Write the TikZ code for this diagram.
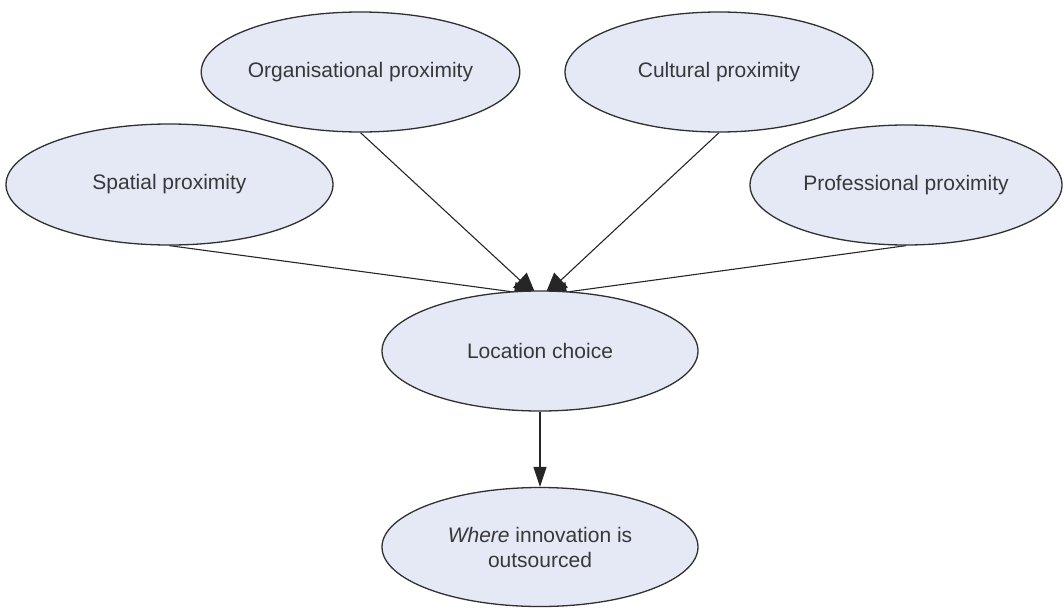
\documentclass[tikz,border=0pt]{standalone}
\usepackage{fontspec}
\setmainfont{Liberation Sans}
\usetikzlibrary{shapes.geometric,arrows.meta,backgrounds}
\definecolor{bubblefill}{HTML}{E4E9F5}
\definecolor{rim}{HTML}{303030}
\definecolor{ink}{HTML}{383838}
\begin{document}
\begin{tikzpicture}[x=1pt,y=-1pt,
  bubble/.style={ellipse, draw=rim, line width=1.3pt, fill=bubblefill, text=ink,
    inner sep=0pt, font=\fontsize{21}{25}\selectfont, align=center},
  link/.style={draw=black!85, line width=1.1pt, -{Triangle[length=20pt,width=13pt]}},
  biglink/.style={link, -{Triangle[length=22pt,width=20pt]}}]
\useasboundingbox (0,0) rectangle (1064,608);

% factor ellipses
\node[bubble, minimum width=315pt, minimum height=120pt] (org) at (360.5,72) {Organisational proximity};
\node[bubble, minimum width=308pt, minimum height=120pt] (cul) at (719,72) {Cultural proximity};
\node[bubble, minimum width=327pt, minimum height=121pt] (sp) at (169.5,184.5) {Spatial proximity};
\node[bubble, minimum width=312pt, minimum height=120pt] (pro) at (906,185) {Professional proximity};

% outcome ellipses
\node[bubble, minimum width=316pt, minimum height=120pt] (loc) at (540,351) {Location choice};
\node[bubble, minimum width=316pt, minimum height=119pt] (whr) at (540,547) {\textit{Where} innovation is\\outsourced};

% meeting points a little inside the top of the location ellipse
\coordinate (tl) at (536,295);
\coordinate (tr) at (545,295);

\begin{pgfonlayer}{background}
  \draw[biglink] (sp.south) -- (tl);
  \draw[biglink] (org.south) -- (tl);
  \draw[biglink] (cul.south) -- (tr);
  \draw[biglink] (pro.south) -- (tr);
\end{pgfonlayer}

\draw[link] (loc.south) -- (whr.north);
\end{tikzpicture}
\end{document}
